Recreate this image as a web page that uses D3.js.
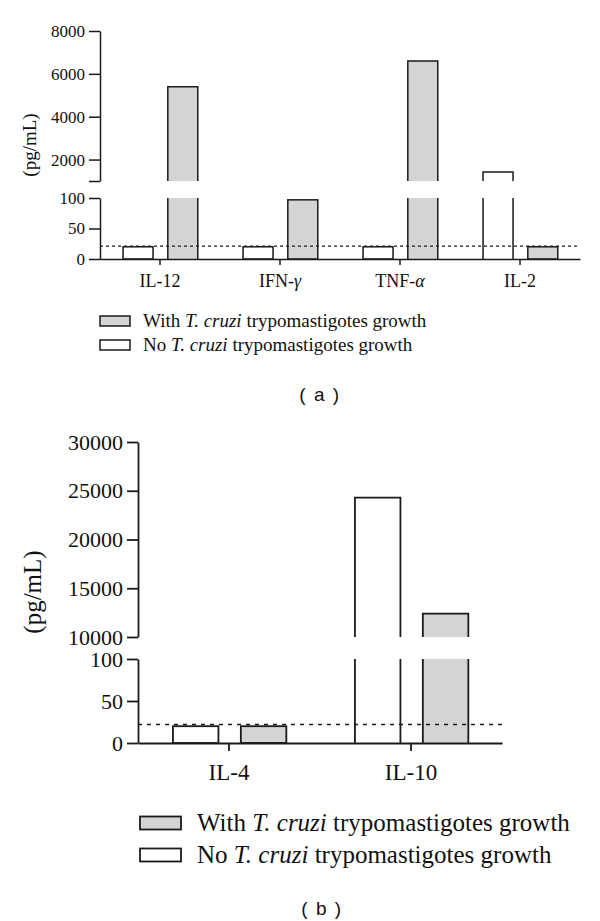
<!DOCTYPE html>
<html>
<head>
<meta charset="utf-8">
<script src="https://cdn.jsdelivr.net/npm/d3@7"></script>
<style>
  body { margin: 0; background: #fff; }
  svg { display: block; }
  text { font-family: "Liberation Serif", "Times New Roman", serif; fill: #111; }
  text.cap { font-family: "Liberation Sans", Arial, sans-serif; }
</style>
</head>
<body>
<svg id="chart" width="600" height="921"></svg>
<script>
// ---------- data ----------
const seriesKeys = ["no", "with"];
const seriesNames = ["No", "With"];

// panel (a)
const categoriesA = ["IL-12", "IFN-γ", "TNF-α", "IL-2"];
const withGrowthA = [5400, 97, 6600, 20];
const noGrowthA = [20, 20, 20, 1420];
const upperTicksA = [2000, 4000, 6000, 8000];
const lowerTicksA = [0, 50, 100];
const upperDomainA = [1000, 8000];
const lowerDomainA = [0, 100];
const cutoffA = 21;

// panel (b)
const categoriesB = ["IL-4", "IL-10"];
const withGrowthB = [20, 12400];
const noGrowthB = [20, 24300];
const upperTicksB = [10000, 15000, 20000, 25000, 30000];
const lowerTicksB = [0, 50, 100];
const upperDomainB = [10000, 30000];
const lowerDomainB = [0, 100];
const cutoffB = 22;

const yLabel = "(pg/mL)";

const SERIF = '"Liberation Serif", "Times New Roman", serif';
const SANS = '"Liberation Sans", Arial, sans-serif';
const svg = d3.select("#chart");
const STROKE = "#1a1a1a";
const GRAY = "#d4d4d4";

function catLabel(sel, name) {
  const m = name.match(/^(.*-)([α-ω])$/);
  if (m) {
    sel.text(null);
    sel.append("tspan").text(m[1]);
    sel.append("tspan").style("font-style", "italic").text(m[2]);
  } else sel.text(name);
}

function drawPanel(cfg) {
  const g = svg.append("g");
  const data = cfg.categories.map((c, i) => ({ cat: c, no: cfg.no[i], with: cfg.with[i] }));

  const x0 = d3.scaleBand().domain(cfg.categories).range(cfg.xRange).padding(0);
  const bw = x0.bandwidth();
  const x1 = d3.scaleBand().domain(seriesKeys).range([0.192 * bw, 0.815 * bw]).paddingInner(0.33);

  const yU = d3.scaleLinear().domain(cfg.upperDomain).range(cfg.upperRange);
  const yL = d3.scaleLinear().domain(cfg.lowerDomain).range(cfg.lowerRange);
  const lowMax = cfg.lowerDomain[1];
  const y0 = yL(0);

  const bars = [];
  data.forEach(d => seriesKeys.forEach(k => bars.push({ cat: d.cat, key: k, v: d[k] })));

  const bg = g.append("g");
  bars.forEach(b => {
    const xa = x0(b.cat) + x1(b.key);
    const xb = xa + x1.bandwidth();
    const fill = b.key === "with" ? GRAY : "#fff";
    if (b.v <= lowMax) {
      bg.append("rect").attr("x", xa).attr("y", yL(b.v)).attr("width", xb - xa).attr("height", y0 - yL(b.v))
        .attr("fill", fill).attr("stroke", STROKE).attr("stroke-width", cfg.sw);
    } else {
      const lt = yL(lowMax);
      bg.append("rect").attr("x", xa).attr("y", lt).attr("width", xb - xa).attr("height", y0 - lt)
        .attr("fill", fill).attr("stroke", "none");
      bg.append("path").attr("d", `M${xa},${y0}V${lt}M${xb},${lt}V${y0}`)
        .attr("fill", "none").attr("stroke", STROKE).attr("stroke-width", cfg.sw);
      const ub = yU(cfg.upperDomain[0]);
      const ut = yU(b.v);
      bg.append("rect").attr("x", xa).attr("y", ut).attr("width", xb - xa).attr("height", ub - ut)
        .attr("fill", fill).attr("stroke", "none");
      bg.append("path").attr("d", `M${xa},${ub}V${ut}H${xb}V${ub}`)
        .attr("fill", "none").attr("stroke", STROKE).attr("stroke-width", cfg.sw);
    }
  });

  g.append("line").attr("x1", cfg.xRange[0]).attr("x2", cfg.xRange[1])
    .attr("y1", yL(cfg.cutoff)).attr("y2", yL(cfg.cutoff))
    .attr("stroke", STROKE).attr("stroke-width", cfg.sw * 0.9).attr("stroke-dasharray", cfg.dash);

  const upperVals = [cfg.upperDomain[0], ...cfg.upperTicks.filter(t => t !== cfg.upperDomain[0])];
  const axU = d3.axisLeft(yU).tickValues(upperVals).tickSize(cfg.tick).tickSizeOuter(0).tickPadding(4)
    .tickFormat(d => cfg.upperTicks.includes(d) ? String(d) : "");
  const axL = d3.axisLeft(yL).tickValues(cfg.lowerTicks).tickSize(cfg.tick).tickSizeOuter(0).tickPadding(4)
    .tickFormat(d => String(d));
  const axX = d3.axisBottom(x0).tickSize(cfg.xtick).tickSizeOuter(0).tickPadding(cfg.xpad);

  [axU, axL].forEach(ax => {
    const a = g.append("g").attr("transform", `translate(${cfg.xRange[0]},0)`).call(ax);
    a.attr("font-family", null).attr("font-size", null);
    a.selectAll("text").style("font-size", cfg.tickFont + "px").style("font-family", SERIF).attr("fill", "#111");
  });
  const ax = g.append("g").attr("transform", `translate(0,${y0})`).call(axX);
  ax.attr("font-family", null).attr("font-size", null);
  ax.selectAll("text").style("font-size", cfg.catFont + "px").style("font-family", SERIF).attr("fill", "#111")
    .each(function(d) { catLabel(d3.select(this), d); });
  g.selectAll(".domain, .tick line").attr("stroke", STROKE).attr("stroke-width", cfg.sw);

  g.append("text").attr("transform", `translate(${cfg.yLabelX},${cfg.yLabelY}) rotate(-90)`)
    .attr("text-anchor", "middle").style("font-family", SERIF).style("font-size", cfg.yLabelFont + "px").text(yLabel);

  const legendItems = [
    { key: "with", name: seriesNames[1] },
    { key: "no", name: seriesNames[0] }
  ];
  legendItems.forEach((it, i) => {
    const ly = cfg.legY + i * cfg.legStep;
    g.append("rect").attr("x", cfg.legX).attr("y", ly - cfg.boxH / 2).attr("width", cfg.boxW).attr("height", cfg.boxH)
      .attr("fill", it.key === "with" ? GRAY : "#fff").attr("stroke", STROKE).attr("stroke-width", cfg.sw);
    const t = g.append("text").attr("x", cfg.legTextX).attr("y", ly).attr("dy", "0.33em")
      .style("font-family", SERIF).style("font-size", cfg.legFont + "px");
    t.append("tspan").text(it.name + " ");
    t.append("tspan").style("font-style", "italic").text("T. cruzi");
    t.append("tspan").text(" trypomastigotes growth");
  });

  g.append("text").attr("class", "cap").attr("x", cfg.capX).attr("y", cfg.capY)
    .attr("text-anchor", "middle").style("font-family", SANS).style("font-size", cfg.capFont + "px")
    .style("white-space", "pre").style("letter-spacing", "1.5px")
    .text(cfg.caption);
}

drawPanel({
  categories: categoriesA, with: withGrowthA, no: noGrowthA,
  upperTicks: upperTicksA, lowerTicks: lowerTicksA,
  upperDomain: upperDomainA, lowerDomain: lowerDomainA, cutoff: cutoffA,
  xRange: [100, 580], upperRange: [181, 31], lowerRange: [259, 198],
  sw: 1.5, dash: "3,3", tick: 11, xtick: 6, xpad: 9,
  tickFont: 17, catFont: 18, yLabelFont: 19, yLabelX: 36, yLabelY: 145,
  legX: 100, legTextX: 143, legY: 321, legStep: 24, boxW: 30, boxH: 10, legFont: 19,
  capX: 320, capY: 401, capFont: 19, caption: "( a )"
});

drawPanel({
  categories: categoriesB, with: withGrowthB, no: noGrowthB,
  upperTicks: upperTicksB, lowerTicks: lowerTicksB,
  upperDomain: upperDomainB, lowerDomain: lowerDomainB, cutoff: cutoffB,
  xRange: [138, 502], upperRange: [637, 442], lowerRange: [743, 659],
  sw: 1.8, dash: "4,5", tick: 11, xtick: 8, xpad: 13,
  tickFont: 22, catFont: 23, yLabelFont: 25, yLabelX: 41, yLabelY: 592,
  legX: 140, legTextX: 197, legY: 823, legStep: 32, boxW: 41, boxH: 13, legFont: 25,
  capX: 322, capY: 915, capFont: 19, caption: "( b )"
});
</script>
</body>
</html>
